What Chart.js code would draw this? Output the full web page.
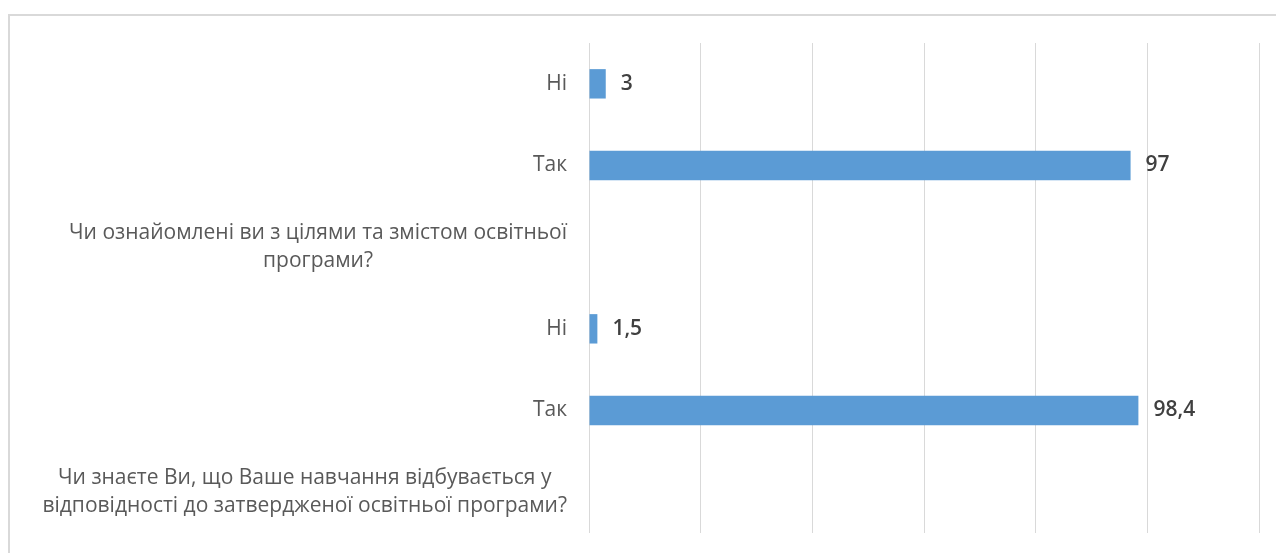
<!DOCTYPE html>
<html>
<head>
<meta charset="utf-8">
<script src="https://cdn.jsdelivr.net/npm/chart.js@4"></script>
<style>
  body { margin: 0; background: #fff; }
  #wrap { position: relative; width: 1276px; height: 553px; overflow: hidden; }
  #frame { position: absolute; left: 8px; top: 14px; width: 1400px; height: 700px;
           border-top: 2px solid #d9d9d9; border-left: 2px solid #d9d9d9; }
  canvas { position: absolute; left: 0; top: 0; }
</style>
</head>
<body>
<div id="wrap">
  <div id="frame"></div>
  <canvas id="bar-chart" width="1276" height="553"></canvas>
</div>
<script>
const bar_chart_div = document.getElementById("bar-chart");

// === ДАНІ === //
const categories = [
  'Ні',
  'Так',
  ['Чи ознайомлені ви з цілями та змістом освітньої', 'програми?'],
  'Ні',
  'Так',
  ['Чи знаєте Ви, що Ваше навчання відбувається у', 'відповідності до затвердженої освітньої програми?']
];
const values = [3, 97, null, 1.5, 98.4, null];
const x_ticks = [0, 20, 40, 60, 80, 100, 120];

const label_font = '21px "Open Sans", sans-serif';
const value_font = '600 21px "Open Sans", sans-serif';

// підписи категорій (багаторядкові центруються між собою, блок вирівняний праворуч)
const categoryLabels = {
  id: 'categoryLabels',
  afterDraw(chart) {
    const ctx = chart.ctx;
    const y_scale = chart.scales.y;
    const right = chart.chartArea.left - 22;
    ctx.save();
    ctx.font = label_font;
    ctx.fillStyle = '#595959';
    ctx.textAlign = 'center';
    ctx.textBaseline = 'middle';
    categories.forEach((lab, i) => {
      const lines = Array.isArray(lab) ? lab : [lab];
      const w = Math.max(...lines.map(l => ctx.measureText(l).width));
      const cy = y_scale.getPixelForValue(i);
      const lh = 28;
      lines.forEach((l, k) => {
        ctx.fillText(l, right - w / 2, cy + (k - (lines.length - 1) / 2) * lh);
      });
    });
    ctx.restore();
  }
};

// підписи значень
const valueLabels = {
  id: 'valueLabels',
  afterDatasetsDraw(chart) {
    const ctx = chart.ctx;
    const meta = chart.getDatasetMeta(0);
    ctx.save();
    ctx.font = value_font;
    ctx.fillStyle = '#404040';
    ctx.textAlign = 'left';
    ctx.textBaseline = 'middle';
    meta.data.forEach((bar, i) => {
      if (values[i] === null) return;
      ctx.fillText(String(values[i]).replace('.', ','), bar.x + 15, bar.y);
    });
    ctx.restore();
  }
};

let bar_chart = new Chart(bar_chart_div, {
  type: 'bar',
  data: {
    labels: categories,
    datasets: [{
      data: values,
      backgroundColor: '#5b9bd5',
      borderWidth: 0,
      categoryPercentage: 1.0,
      barPercentage: 0.36
    }]
  },
  options: {
    indexAxis: 'y',
    responsive: false,
    animation: false,
    layout: {
      padding: { top: 43, right: 17, bottom: 20, left: 0 }
    },
    plugins: {
      legend: { display: false },
      tooltip: { enabled: false }
    },
    scales: {
      x: {
        min: x_ticks[0],
        max: x_ticks[x_ticks.length - 1],
        afterBuildTicks: (scale) => { scale.ticks = x_ticks.map(v => ({ value: v })); },
        ticks: { display: false },
        grid: { color: '#d9d9d9', lineWidth: 1, drawTicks: false },
        border: { display: false }
      },
      y: {
        ticks: { display: false },
        grid: { display: false },
        border: { display: false },
        afterFit: (scale) => { scale.width = 589; }
      }
    }
  },
  plugins: [categoryLabels, valueLabels]
});
</script>
</body>
</html>
